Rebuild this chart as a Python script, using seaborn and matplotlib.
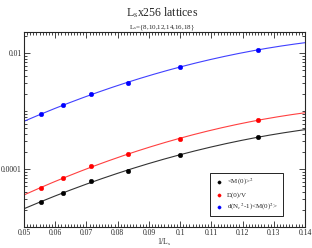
import numpy as np
import pandas as pd
import seaborn as sns
import matplotlib
matplotlib.use("Agg")
import matplotlib.pyplot as plt
from matplotlib.ticker import LogLocator, MultipleLocator, FixedLocator, FixedFormatter

Ls = [18, 16, 14, 12, 10, 8]
inv_Ls = [1.0 / l for l in Ls]
m0_sq = [2.70e-5, 3.86e-5, 6.21e-5, 9.35e-5, 1.74e-4, 3.56e-4]
d0_v = [4.76e-5, 6.92e-5, 1.11e-4, 1.82e-4, 3.29e-4, 7.00e-4]
dnc_m0 = [8.77e-4, 1.25e-3, 1.99e-3, 3.08e-3, 5.67e-3, 1.14e-2]

series = {
    r"<M(0)>$^2$": (m0_sq, "black"),
    r"D(0)/V": (d0_v, "red"),
    r"d(N$_c$$^2$-1)<M(0)$^2$>": (dnc_m0, "blue"),
}

sns.set_style("ticks")
plt.rcParams["font.family"] = ["Liberation Serif", "DejaVu Serif"]
plt.rcParams["mathtext.fontset"] = "stix"

fig = plt.figure(figsize=(3.12, 2.48), dpi=100)
ax = fig.add_axes([0.0769, 0.0847, 0.9006, 0.7863])

xfit = np.linspace(0.05, 0.14, 200)
line_colors = {"black": "#333333", "red": "#ff4040", "blue": "#4040ff"}
for label, (vals, color) in series.items():
    # quadratic fit in log space, as drawn in the original
    coef = np.polyfit(inv_Ls, np.log10(vals), 2)
    fit = pd.DataFrame({"x": xfit, "y": 10 ** np.polyval(coef, xfit)})
    sns.lineplot(data=fit, x="x", y="y", ax=ax, color=line_colors[color],
                 linewidth=0.8, legend=False)
    pts = pd.DataFrame({"x": inv_Ls, "y": vals})
    sns.scatterplot(data=pts, x="x", y="y", ax=ax, color=color, s=11,
                    edgecolor=color, linewidth=0.3, label=label, zorder=5)

ax.set_yscale("log")
ax.set_xlim(0.05, 0.14)
ax.set_ylim(1e-5, 0.023)
xt = np.round(np.arange(0.05, 0.1401, 0.01), 2)
ax.xaxis.set_major_locator(FixedLocator(xt))
ax.xaxis.set_major_formatter(FixedFormatter([f"{v:g}" for v in xt]))
ax.xaxis.set_minor_locator(MultipleLocator(0.001))
ax.yaxis.set_major_locator(FixedLocator([1e-4, 1e-2]))
ax.yaxis.set_major_formatter(FixedFormatter(["0.0001", "0.01"]))
ax.yaxis.set_minor_locator(LogLocator(base=10, subs=np.arange(1, 10), numticks=20))
ax.yaxis.set_minor_formatter(FixedFormatter([]))

ax.tick_params(which="both", direction="in", top=True, right=True,
               labelsize=5.5, width=0.6, pad=1.5)
ax.tick_params(which="major", length=4)
ax.tick_params(which="minor", length=2)
for sp in ax.spines.values():
    sp.set_linewidth(0.8)

ax.set_xlabel(r"1/L$_\mathrm{s}$", fontsize=5.5, labelpad=0)
ax.set_ylabel("")

fig.text(0.52, 0.935, r"L$_\mathrm{s}$x256 lattices", ha="center", fontsize=8.5)
fig.text(0.52, 0.88, r"L$_\mathrm{s}$={8,10,12,14,16,18}", ha="center", fontsize=5)

leg = ax.legend(loc="upper left", bbox_to_anchor=(0.651, 0.295), fontsize=5,
                frameon=True, fancybox=False, edgecolor="black", framealpha=1,
                handletextpad=0.6, borderpad=0.6, labelspacing=0.6,
                markerscale=0.7, handlelength=1.2)
leg.get_frame().set_linewidth(0.6)

fig.savefig("out.png", dpi=100)
